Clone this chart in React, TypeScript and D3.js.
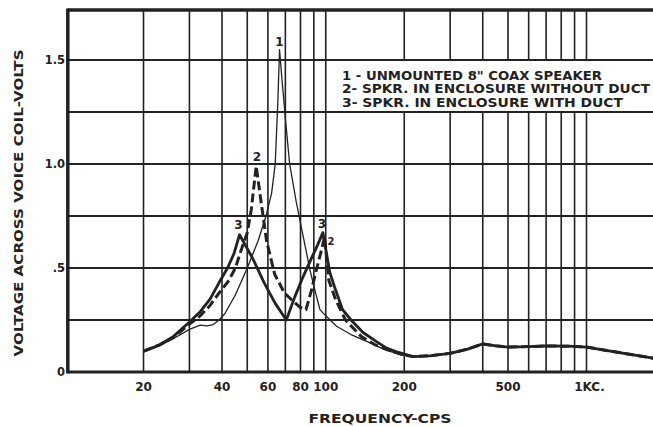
import React from 'react';
import * as d3 from 'd3';

const W = 653;
const H = 426;

// Curve 1 — unmounted 8" coax speaker (thin solid)
const curve1Freq = [20, 23, 26, 30, 33, 35, 37, 39, 41, 45, 50, 55, 59, 62, 64, 65.5, 66.5, 68, 70, 72.7, 77, 82, 87, 91, 95, 100, 110, 125, 148, 170, 198];
const curve1Volt = [0.095, 0.125, 0.16, 0.205, 0.225, 0.222, 0.228, 0.25, 0.28, 0.37, 0.5, 0.63, 0.75, 0.86, 1.0, 1.3, 1.55, 1.4, 1.22, 1.0, 0.82, 0.65, 0.49, 0.39, 0.3, 0.27, 0.22, 0.18, 0.14, 0.105, 0.08];

// Curve 2 — speaker in enclosure without duct (heavy dashed)
const curve2Freq = [20, 23, 26, 30, 33, 36, 39, 42.5, 45, 47.5, 50, 51.8, 54.1, 56.6, 59.3, 63.7, 69.4, 75, 80, 84, 88, 92, 96, 99, 102.8, 109, 119, 137, 155, 175, 195];
const curve2Volt = [0.1, 0.13, 0.165, 0.23, 0.27, 0.32, 0.38, 0.44, 0.5, 0.59, 0.67, 0.78, 0.99, 0.81, 0.63, 0.47, 0.38, 0.34, 0.31, 0.3, 0.39, 0.49, 0.58, 0.65, 0.44, 0.35, 0.25, 0.17, 0.13, 0.105, 0.085];

// Curve 3 — speaker in enclosure with duct (heavy solid)
const curve3Freq = [20, 23, 26, 30, 33, 36, 39, 42, 44.5, 46.7, 52.5, 58, 64, 70.6, 76, 82, 88, 93, 97.5, 100, 103.6, 108, 116, 125, 139, 155, 171, 190];
const curve3Volt = [0.1, 0.13, 0.17, 0.24, 0.29, 0.35, 0.43, 0.5, 0.57, 0.66, 0.545, 0.43, 0.33, 0.25, 0.36, 0.46, 0.545, 0.61, 0.67, 0.59, 0.48, 0.41, 0.3, 0.25, 0.19, 0.15, 0.115, 0.094];

// Common high-frequency tail (all three curves coincide)
const tailFreq = [216, 250, 300, 350, 400, 450, 500, 600, 700, 850, 1000, 1300, 1600, 1900];
const tailVolt = [0.074, 0.078, 0.09, 0.11, 0.135, 0.126, 0.12, 0.122, 0.125, 0.124, 0.12, 0.096, 0.077, 0.062];

const gridFreqs = [20, 30, 40, 50, 60, 70, 80, 90, 100, 200, 300, 400, 500, 600, 700, 800, 900, 1000];
const gridVolts = [0.25, 0.5, 0.75, 1.0, 1.25, 1.5];
const xTickFreqs = [20, 40, 60, 80, 100, 200, 500, 1000];
const xTickLabels = ['20', '40', '60', '80', '100', '200', '500', '1KC.'];
const yTickVolts = [0, 0.5, 1.0, 1.5];
const yTickLabels = ['0', '.5', '1.0', '1.5'];

const legendLines = [
  '1 - UNMOUNTED 8" COAX SPEAKER',
  '2- SPKR. IN ENCLOSURE WITHOUT DUCT',
  '3- SPKR. IN ENCLOSURE WITH DUCT',
];

const F_MIN = 10.25;
const F_MAX = 1900;
const V_MAX = 1.74;

const INK = '#222';
const FONT = '"DejaVu Sans", Verdana, sans-serif';

function zip(f: number[], v: number[]): [number, number][] {
  return f.map((d, i) => [d, v[i]] as [number, number]);
}

export default function App() {
  const x = d3.scaleLog().domain([20, 1000]).range([143.5, 586.5]);
  const y = d3.scaleLinear().domain([0, 1.5]).range([372, 60]);

  const line = d3
    .line<[number, number]>()
    .x((d) => x(d[0]))
    .y((d) => y(d[1]))
    .curve(d3.curveLinear);

  const tail = zip(tailFreq, tailVolt);
  const s1 = zip(curve1Freq, curve1Volt).concat(tail);
  const s2 = zip(curve2Freq, curve2Volt).concat(tail);
  const s3 = zip(curve3Freq, curve3Volt).concat(tail);

  const left = x(F_MIN);
  const right = x(F_MAX);
  const top = y(V_MAX);
  const bottom = y(0);

  const legendX = 342;
  const legendY = [76, 89.5, 103];
  const legendLen = [260, 308, 281];

  return (
    <svg
      width={W}
      height={H}
      style={{ position: 'absolute', left: 0, top: 0, background: '#fff' }}
    >
      <rect x={0} y={0} width={W} height={H} fill="#fff" />
      {/* vertical grid */}
      {gridFreqs.map((f) => (
        <line key={'v' + f} x1={x(f)} x2={x(f)} y1={top} y2={bottom} stroke={INK} strokeWidth={1.6} />
      ))}
      {/* legend white box interrupting vertical grid */}
      <rect x={336} y={y(1.5) + 1} width={W} height={y(1.25) - y(1.5) - 2} fill="#fff" />
      {/* horizontal grid */}
      {gridVolts.map((v) => (
        <line key={'h' + v} x1={left} x2={right} y1={y(v)} y2={y(v)} stroke={INK} strokeWidth={1.8} />
      ))}
      {/* frame */}
      <line x1={left} x2={right} y1={top} y2={top} stroke={INK} strokeWidth={3.5} />
      <line x1={left} x2={right} y1={bottom} y2={bottom} stroke={INK} strokeWidth={3.2} />
      <line x1={left} x2={left} y1={top - 1.5} y2={bottom + 1.5} stroke={INK} strokeWidth={3.5} />

      {/* curves */}
      <path d={line(s1) || ''} fill="none" stroke={INK} strokeWidth={1.3} strokeLinejoin="round" />
      <path d={line(s3) || ''} fill="none" stroke={INK} strokeWidth={2.8} strokeLinejoin="round" />
      <path d={line(s2) || ''} fill="none" stroke={INK} strokeWidth={3} strokeDasharray="9 4" strokeLinejoin="round" />

      {/* curve labels */}
      <g fontFamily={FONT} fontWeight="bold" fill={INK} textAnchor="middle">
        <text x={279.5} y={46} fontSize={12}>1</text>
        <text x={257} y={161} fontSize={12}>2</text>
        <text x={238.5} y={229} fontSize={12}>3</text>
        <text x={322} y={228} fontSize={12}>3</text>
        <text x={331} y={245} fontSize={10}>2</text>
      </g>

      {/* legend */}
      <g fontFamily={FONT} fontWeight="bold" fill={INK} fontSize={12.5}>
        {legendLines.map((t, i) => (
          <text key={i} x={legendX} y={legendY[i]} dominantBaseline="middle" textLength={legendLen[i]} lengthAdjust="spacingAndGlyphs">
            {t}
          </text>
        ))}
      </g>

      {/* x tick labels */}
      <g fontFamily={FONT} fontWeight="bold" fill={INK} fontSize={12} textAnchor="middle">
        {xTickFreqs.map((f, i) => (
          <text key={'xt' + f} x={x(f) + (f === 1000 ? 3 : 0)} y={391}>
            {xTickLabels[i]}
          </text>
        ))}
      </g>

      {/* y tick labels */}
      <g fontFamily={FONT} fontWeight="bold" fill={INK} fontSize={11.5} textAnchor="end">
        {yTickVolts.map((v, i) => (
          <text key={'yt' + v} x={65} y={y(v)} dominantBaseline="middle">
            {yTickLabels[i]}
          </text>
        ))}
      </g>

      {/* axis titles */}
      <text
        x={380}
        y={423}
        fontFamily={FONT}
        fontWeight="bold"
        fontSize={13}
        fill={INK}
        textAnchor="middle"
        textLength={143}
        lengthAdjust="spacingAndGlyphs"
      >
        FREQUENCY-CPS
      </text>
      <text
        transform={`translate(23,203) rotate(-90)`}
        fontFamily={FONT}
        fontWeight="bold"
        fontSize={13}
        fill={INK}
        textAnchor="middle"
        textLength={307}
        lengthAdjust="spacingAndGlyphs"
      >
        VOLTAGE ACROSS VOICE COIL-VOLTS
      </text>
    </svg>
  );
}
